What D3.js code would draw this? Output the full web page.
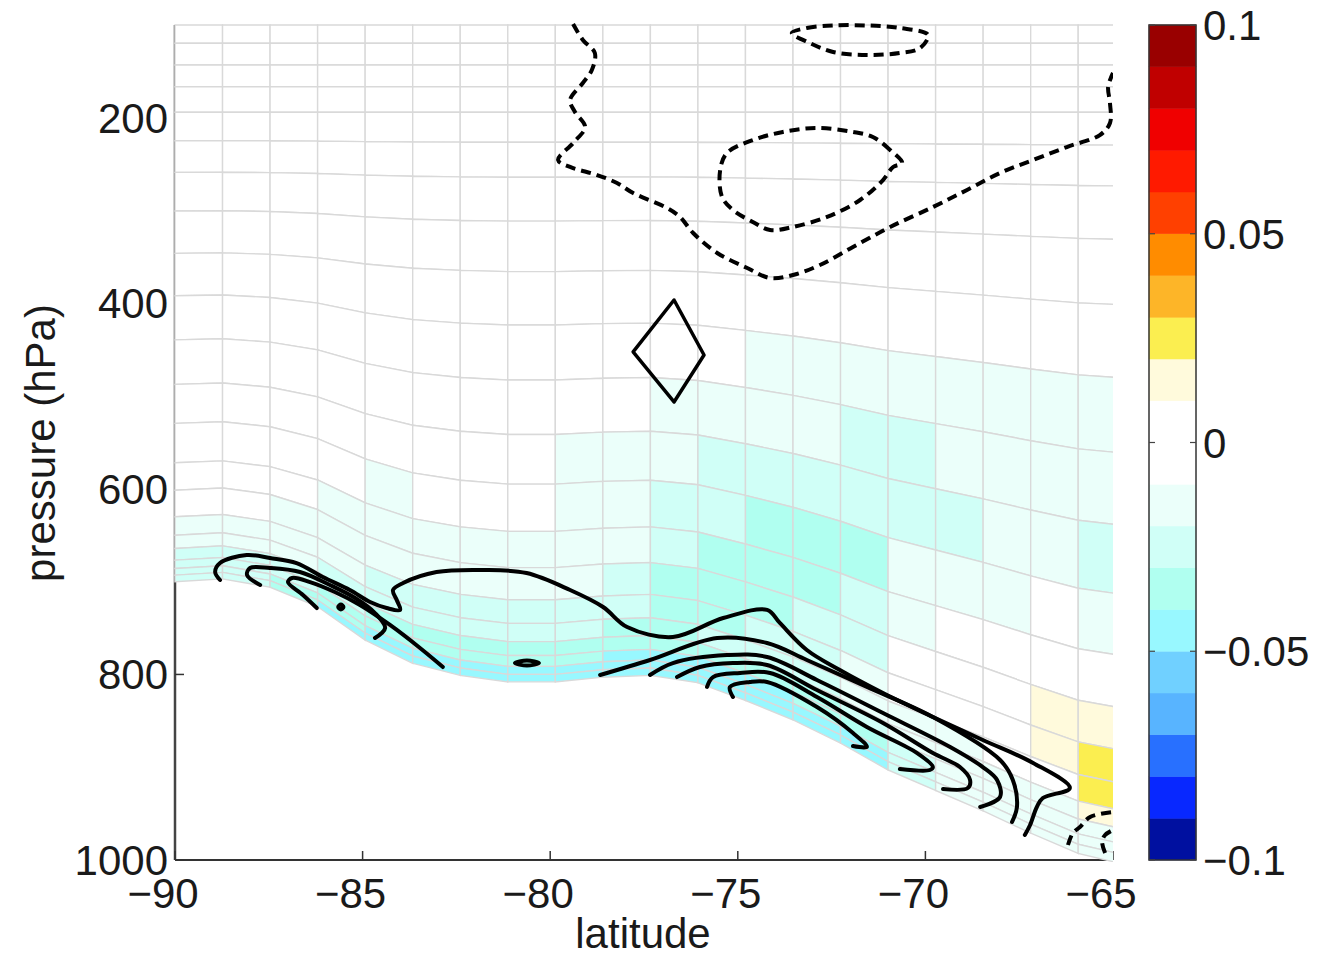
<!DOCTYPE html>
<html><head><meta charset="utf-8">
<script src="https://cdn.jsdelivr.net/npm/d3@7"></script>
<style>
body{margin:0;background:#fff;}
text{font-family:"Liberation Sans",Arial,Helvetica,sans-serif;fill:#1a1a1a;}
</style>
</head><body>
<svg id="chart" width="1322" height="957"></svg>
<script>
// ---------- data ----------
const latEdges = [-90, -88.733, -87.466, -86.199, -84.932, -83.665, -82.398, -81.131, -79.864, -78.597,
  -77.330, -76.063, -74.796, -73.529, -72.262, -70.995, -69.728, -68.461, -67.194, -65.927, -64.660];
const surfacePressure = [700, 697, 706, 727, 763, 788, 801, 808, 808, 803, 801, 809, 828, 849, 874, 903, 925, 947, 971, 993, 1005];
const hybA = [100, 119.7, 143.1, 166.5, 194.1, 213.7, 225, 230, 218.5, 188.2, 158.7, 137.6, 105, 93.1, 60.5, 50.5, 33.7, 13.4, 10.2, 2.4, 0, 0];
const hybB = [0, 0, 0, 0, 0, 0.0157, 0.0483, 0.1007, 0.1823, 0.291, 0.401, 0.4997, 0.6063, 0.684, 0.7727, 0.828, 0.8803, 0.9297, 0.9523, 0.9763, 0.99, 1];

// layer (row, top->bottom) x latitude column
const anomaly = [
  [0,0,0,0,0,0,0,0,0,0,0,0,0,0,0,0,0,0,0,0],
  [0,0,0,0,0,0,0,0,0,0,0,0,0,0,0,0,0,0,0,0],
  [0,0,0,0,0,0,0,0,0,0,0,0,0,0,0,0,0,0,0,0],
  [0,0,0,0,0,0,0,0,0,0,0,0,0,0,0,0,0,0,0,0],
  [0,0,0,0,0,0,0,0,0,0,0,0,0,0,0,0,0,0,0,0],
  [0,0,0,0,0,0,0,0,0,0,0,0,0,0,0,0,0,0,0,0],
  [0,0,0,0,0,0,0,0,0,0,0,0,0,0,0,0,0,0,0,0],
  [0,0,0,0,0,0,0,0,0,0,0,0,0,0,0,0,0,0,0,0],
  [0,0,0,0,0,0,0,0,0,0,0,0,0,0,0,0,0,0,0,0],
  [0,0,0,0,0,0,0,0,0,0,0,0,-0.015,-0.015,-0.015,-0.015,-0.015,-0.015,-0.015,-0.015],
  [0,0,0,0,0,0,0,0,0,0,-0.015,-0.015,-0.015,-0.015,-0.025,-0.025,-0.015,-0.015,-0.015,-0.015],
  [0,0,0,0,0,0,0,0,-0.015,-0.015,-0.015,-0.025,-0.025,-0.025,-0.025,-0.025,-0.025,-0.015,-0.015,-0.025],
  [0,0,0,0,-0.015,0,0,0,-0.015,-0.015,-0.025,-0.025,-0.035,-0.035,-0.035,-0.015,-0.015,-0.015,0,-0.015],
  [0,0,0,-0.015,-0.015,-0.015,-0.015,-0.015,-0.015,-0.015,-0.025,-0.035,-0.035,-0.035,-0.025,-0.015,0,0,0,0],
  [0,0,-0.015,-0.015,-0.015,-0.015,-0.015,-0.015,-0.015,-0.025,-0.035,-0.035,-0.035,-0.025,-0.025,0,0,0,0.015,0.015],
  [-0.015,-0.015,-0.015,-0.015,-0.025,-0.025,-0.025,-0.025,-0.025,-0.025,-0.035,-0.035,-0.025,-0.025,-0.015,0,0,0,0.015,0.025],
  [-0.015,-0.015,-0.015,-0.025,-0.025,-0.025,-0.025,-0.025,-0.025,-0.035,-0.035,-0.025,-0.025,-0.025,-0.015,-0.015,-0.015,0,0,0.025],
  [-0.025,-0.025,-0.025,-0.025,-0.035,-0.035,-0.035,-0.035,-0.035,-0.035,-0.035,-0.035,-0.035,-0.035,-0.025,-0.015,-0.015,-0.015,-0.015,0.015],
  [-0.025,-0.025,-0.025,-0.035,-0.035,-0.035,-0.035,-0.035,-0.035,-0.045,-0.045,-0.045,-0.045,-0.035,-0.035,-0.025,-0.015,-0.015,-0.015,-0.015],
  [-0.025,-0.025,-0.035,-0.035,-0.045,-0.045,-0.045,-0.045,-0.045,-0.045,-0.045,-0.045,-0.045,-0.045,-0.045,-0.025,-0.015,-0.015,-0.015,-0.015],
  [-0.025,-0.025,-0.035,-0.045,-0.045,-0.045,-0.045,-0.045,-0.045,-0.045,-0.045,-0.045,-0.045,-0.045,-0.045,-0.025,-0.015,-0.015,-0.015,-0.015]
];

const colorLevels = [-0.1,-0.09,-0.08,-0.07,-0.06,-0.05,-0.04,-0.03,-0.02,-0.01,0,0.01,0.02,0.03,0.04,0.05,0.06,0.07,0.08,0.09,0.1];
const colorBins = ["#0010a0","#0828ff","#2870ff","#58b4ff","#70d0ff","#98f8ff","#b0fff0","#d0fff7","#ebfffa","#ffffff",
                   "#ffffff","#fffadc","#fbee50","#fdb528","#ff8c00","#ff4000","#ff1a00","#f00000","#c00000","#990000"];

const xTicks = [-90, -85, -80, -75, -70, -65];
const yTicks = [200, 400, 600, 800, 1000];
const cbTicks = [-0.1, -0.05, 0, 0.05, 0.1];

// contours [lat, pressure]
const dashedOpen = [
  [[-79.39,99],[-79.13,116.2],[-78.81,130.2],[-78.89,148.5],[-79.13,162.5],[-79.47,180.8],[-79.34,193.8],[-79.07,209.9],
   [-79.39,227.2],[-79.79,245.5],[-79.47,253],[-78.75,261.7],[-78.22,270.3],[-77.79,281.1],[-76.89,297.2],[-76.54,306.9],
   [-76.19,324.2],[-75.55,345.7],[-74.75,361.9],[-74.14,372.7],[-73.53,369.5],[-72.81,358.7],[-71.93,339.3],[-70.94,317.7],
   [-69.80,296.2],[-68.89,277.8],[-68.01,259.5],[-67.13,245.5],[-66.23,231.5],[-65.35,218.6],[-65.08,205.6],[-65.08,184.1],
   [-65.13,166.8],[-65.0,151.7]],
  [[-66.20,983.8],[-66.07,970.9],[-65.88,964.4],[-65.61,953.6],[-65.0,948.3]],
  [[-65.21,992.5],[-65.29,980.6],[-65.21,973],[-65.0,967.7]]
];
const dashedClosed = [
  [[-70.62,248.7],[-70.94,234.7],[-71.40,220.7],[-71.93,215.3],[-72.89,211],[-73.80,215.3],[-74.60,224],[-75.29,238],
   [-75.47,256.3],[-75.42,285.4],[-75.13,299.4],[-74.60,312.3],[-74.14,321],[-73.53,317.7],[-72.62,306.9],[-71.74,288.6],
   [-71.13,267.1],[-70.86,253]],
  [[-73.56,108.6],[-73.16,103.2],[-72.46,100.5],[-71.56,100.5],[-70.68,103.2],[-69.93,110.8],[-70.14,124.8],[-70.68,130.2],
   [-71.56,132.3],[-72.46,129.1],[-73.08,119.4]]
];
const solidOpen = [
  [[-88.80,698.2],[-88.93,689.6],[-88.80,679.9],[-88.09,671.3],[-87.47,674.5],[-86.76,679.9],[-86.06,695],[-85.34,709],
   [-84.80,721.9],[-84.36,728.4],[-84.00,730.5],[-84.09,719.8],[-84.19,709],[-83.92,701.4],[-83.03,689.6],[-81.79,687.4],
   [-80.63,690.7],[-79.47,709],[-78.59,727.3],[-77.95,748.9],[-76.73,759.6],[-75.39,739.2],[-74.22,730.5],[-73.88,744.5],
   [-73.16,773.6],[-72.28,795.2],[-71.13,820],[-69.80,845.9],[-68.47,870.7],[-67.13,895.4],[-66.15,922.4],[-66.87,933.2],
   [-67.03,942.9],[-67.21,962.3],[-67.35,973]],
  [[-87.73,703.6],[-88.08,692.8],[-88.00,685.3],[-87.47,685.3],[-86.67,689.6],[-85.87,703.6],[-85.20,717.6],[-84.67,733.8],
   [-84.40,749.9],[-84.67,760.7]],
  [[-86.22,728.4],[-86.59,714.4],[-86.99,700.4],[-86.88,696],[-86.40,700.4],[-85.74,711.1],[-85.07,725.1],[-84.27,746.7],
   [-83.47,771.5],[-82.86,792]],
  [[-78.67,800.6],[-77.34,784.4],[-75.55,760.7],[-74.22,766.1],[-73.16,784.4],[-71.56,813.5],[-69.80,845.9],[-68.01,892.2],
   [-67.67,913.7],[-67.56,942.9],[-67.69,959]],
  [[-77.34,800.6],[-76.73,787.7],[-75.29,779.1],[-74.22,781.2],[-72.89,806],[-71.13,841.6],[-69.34,878.2],[-68.47,899.8],
   [-68.09,913.7],[-68.01,932.1],[-68.54,942.9]],
  [[-76.62,802.8],[-76.01,792],[-75.13,787.7],[-74.22,789.8],[-72.89,816.8],[-71.13,852.3],[-69.80,884.7],[-69.08,899.8],
   [-68.81,913.7],[-68.87,922.4],[-69.53,923.5]],
  [[-75.82,813.5],[-75.66,802.8],[-74.94,798.4],[-74.14,798.4],[-72.89,824.3],[-71.56,856.6],[-70.22,884.7],[-69.80,899.8],
   [-69.88,903],[-70.68,901.9]],
  [[-75.13,824.3],[-75.21,813.5],[-74.68,808.1],[-74.22,808.1],[-72.89,835.1],[-71.93,863.1],[-71.56,878.2],[-71.93,877.1]]
];
const solidClosed = [
  [[-85.65,727.3],[-85.58,724.6],[-85.51,727.3],[-85.58,730]],
  [[-80.94,787.7],[-80.62,785],[-80.30,787.7],[-80.62,790.4]]
];
const diamond = [[-76.70,396.4],[-75.90,455.7],[-76.70,506.3],[-77.79,452.4]];

// ---------- drawing ----------
const svg = d3.select("#chart");
const x = d3.scaleLinear().domain([-90, -65]).range([175, 1113]);
const y = d3.scaleLinear().domain([100, 1000]).range([25, 860]);
const color = d3.scaleThreshold().domain(colorLevels.slice(1, -1)).range(colorBins);
const fmt = v => (v < 0 ? "\u2212" : "") + String(Math.abs(v));

svg.append("defs").append("clipPath").attr("id", "plotClip")
  .append("rect").attr("x", 173).attr("y", 23).attr("width", 1113 - 173).attr("height", 862 - 23);

// axes (drawn beneath the data, as in the original)
const axisG = svg.append("g");
axisG.append("line").attr("x1", x(-90)).attr("x2", x(-65)).attr("y1", y(1000)).attr("y2", y(1000))
  .attr("stroke", "#333").attr("stroke-width", 2);
axisG.append("line").attr("x1", x(-90)).attr("x2", x(-90)).attr("y1", y(100)).attr("y2", y(1000))
  .attr("stroke", "#444").attr("stroke-width", 2.5);
xTicks.forEach(t => axisG.append("line").attr("x1", x(t)).attr("x2", x(t)).attr("y1", y(1000)).attr("y2", y(1000) - 9)
  .attr("stroke", "#333").attr("stroke-width", 1.5));
yTicks.forEach(t => axisG.append("line").attr("x1", x(-90)).attr("x2", x(-90) + 9).attr("y1", y(t)).attr("y2", y(t))
  .attr("stroke", "#333").attr("stroke-width", 1.5));

// cells
const pAt = (k, i) => hybA[k] + hybB[k] * surfacePressure[i];
const cellG = svg.append("g").attr("clip-path", "url(#plotClip)");
const cells = [];
anomaly.forEach((row, k) => row.forEach((v, i) => {
  cells.push({v, pts: [[latEdges[i], pAt(k, i)], [latEdges[i + 1], pAt(k, i + 1)],
                       [latEdges[i + 1], pAt(k + 1, i + 1)], [latEdges[i], pAt(k + 1, i)]]});
}));
cellG.selectAll("path.cell").data(cells).join("path").attr("class", "cell")
  .attr("d", d => "M" + d.pts.map(p => x(p[0]) + "," + y(p[1])).join("L") + "Z")
  .attr("fill", d => color(d.v))
  .attr("stroke", "#d9d9d9").attr("stroke-width", 1.4);

// contours
const conG = svg.append("g").attr("clip-path", "url(#plotClip)").attr("fill", "none")
  .attr("stroke", "#000").attr("stroke-width", 4).attr("stroke-linejoin", "round");
const lineOpen = d3.line().x(d => x(d[0])).y(d => y(d[1])).curve(d3.curveCatmullRom.alpha(0.5));
const lineClosed = d3.line().x(d => x(d[0])).y(d => y(d[1])).curve(d3.curveCatmullRomClosed.alpha(0.5));
const lineLinClosed = d3.line().x(d => x(d[0])).y(d => y(d[1])).curve(d3.curveLinearClosed);
dashedOpen.forEach(c => conG.append("path").attr("d", lineOpen(c)).attr("stroke-dasharray", "10,6"));
dashedClosed.forEach(c => conG.append("path").attr("d", lineClosed(c)).attr("stroke-dasharray", "10,6"));
solidOpen.forEach(c => conG.append("path").attr("d", lineOpen(c)).attr("stroke-linecap", "round"));
solidClosed.forEach(c => conG.append("path").attr("d", lineClosed(c)));
conG.append("path").attr("d", lineLinClosed(diamond)).attr("stroke-width", 3.5);

// tick labels
const fs = 42;
xTicks.forEach(t => svg.append("text").attr("x", x(t) - 12).attr("y", 908).attr("text-anchor", "middle")
  .attr("font-size", fs).text(fmt(t)));
yTicks.forEach(t => svg.append("text").attr("x", 168).attr("y", y(t) + 15).attr("text-anchor", "end")
  .attr("font-size", fs).text(t));
svg.append("text").attr("x", 643).attr("y", 948).attr("text-anchor", "middle").attr("font-size", fs).text("latitude");
svg.append("text").attr("transform", "translate(55,443) rotate(-90)").attr("text-anchor", "middle")
  .attr("font-size", fs).text("pressure (hPa)");

// colorbar
const cbX0 = 1149, cbX1 = 1196;
const cy = d3.scaleLinear().domain([-0.1, 0.1]).range([860, 25]);
const cbG = svg.append("g");
cbG.selectAll("rect").data(colorBins).join("rect")
  .attr("x", cbX0).attr("width", cbX1 - cbX0)
  .attr("y", (c, i) => cy(colorLevels[i + 1])).attr("height", (c, i) => cy(colorLevels[i]) - cy(colorLevels[i + 1]))
  .attr("fill", c => c).attr("stroke", c => c).attr("stroke-width", 0.5);
cbG.append("rect").attr("x", cbX0).attr("y", cy(0.1)).attr("width", cbX1 - cbX0).attr("height", cy(-0.1) - cy(0.1))
  .attr("fill", "none").attr("stroke", "#333").attr("stroke-width", 1.5);
cbTicks.forEach(t => {
  cbG.append("line").attr("x1", cbX0).attr("x2", cbX0 + 6).attr("y1", cy(t)).attr("y2", cy(t)).attr("stroke", "#444").attr("stroke-width", 1.2);
  cbG.append("line").attr("x1", cbX1 - 6).attr("x2", cbX1).attr("y1", cy(t)).attr("y2", cy(t)).attr("stroke", "#444").attr("stroke-width", 1.2);
  cbG.append("text").attr("x", 1203).attr("y", cy(t) + 15).attr("font-size", fs).text(fmt(t));
});
</script>
</body></html>
